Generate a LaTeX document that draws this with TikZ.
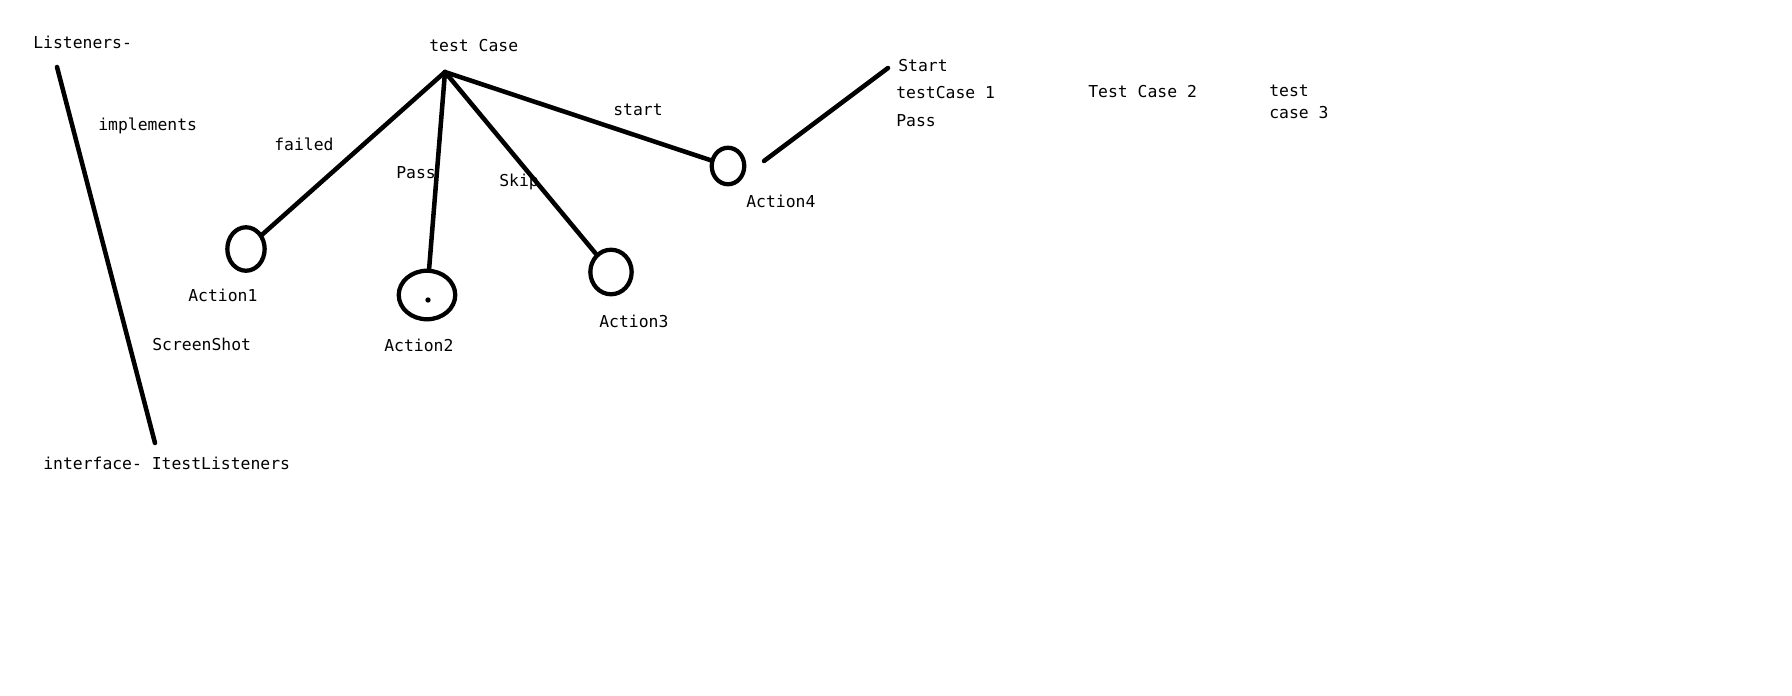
\documentclass[tikz,border=0pt]{standalone}
\usepackage{fontspec}
\setmainfont{DejaVu Sans Mono}
\usetikzlibrary{shapes.geometric}
\begin{document}
\begin{tikzpicture}[x=0.75pt,y=-0.75pt,
  lbl/.style={anchor=base west,inner sep=0pt,font=\fontsize{12.3}{14}\selectfont},
  stroke/.style={line width=3.4pt,line cap=round},
  act/.style={ellipse,draw,line width=3.2pt,inner sep=0pt}]
\useasboundingbox[fill=white] (0,0) rectangle (1792,696);
% texts
\node[lbl] (listeners) at (33,48) {Listeners-};
\node[lbl] (tc) at (429,51) {test Case};
\node[lbl] (impl) at (98,130) {implements};
\node[lbl] (failed) at (274,150) {failed};
\node[lbl] (passl) at (396,178) {Pass};
\node[lbl] (skip) at (499,186) {Skip};
\node[lbl] (startl) at (613,115) {start};
\node[lbl] (t1) at (188,301) {Action1};
\node[lbl] (t2) at (384,351) {Action2};
\node[lbl] (t3) at (599,327) {Action3};
\node[lbl] (t4) at (746,207) {Action4};
\node[lbl] (shot) at (152,350) {ScreenShot};
\node[lbl] (iface) at (43,469) {interface- ItestListeners};
\node[lbl] (st) at (898,71) {Start};
\node[lbl] (tc1) at (896,98) {testCase 1};
\node[lbl] (pass2) at (896,126) {Pass};
\node[lbl] (tc2) at (1088,97) {Test Case 2};
\node[lbl] (tc3a) at (1269,96) {test};
\node[lbl] (tc3b) at (1269,118) {case 3};
% action ellipses
\node[act,minimum width=28pt,minimum height=32.6pt] (a1) at (246,249) {};
\node[act,minimum width=42.4pt,minimum height=36.4pt] (a2) at (427,295) {};
\node[act,minimum width=31pt,minimum height=33.4pt] (a3) at (611,272) {};
\node[act,minimum width=24.4pt,minimum height=27.4pt] (a4) at (728,166) {};
\node[circle,fill,inner sep=0pt,minimum size=4pt] (dot) at (428,300) {};
% connectors
\coordinate (apex) at (445,72);
\coordinate (lTop) at (57,67);
\coordinate (lBot) at (155,443);
\coordinate (sA) at (764,161);
\coordinate (sB) at (888,68);
\draw[stroke] (lTop) -- (lBot);
\draw[stroke] (apex) -- (a1);
\draw[stroke] (apex) -- (a2);
\draw[stroke] (apex) -- (a3);
\draw[stroke] (apex) -- (a4);
\draw[stroke] (sA) -- (sB);
\end{tikzpicture}
\end{document}
